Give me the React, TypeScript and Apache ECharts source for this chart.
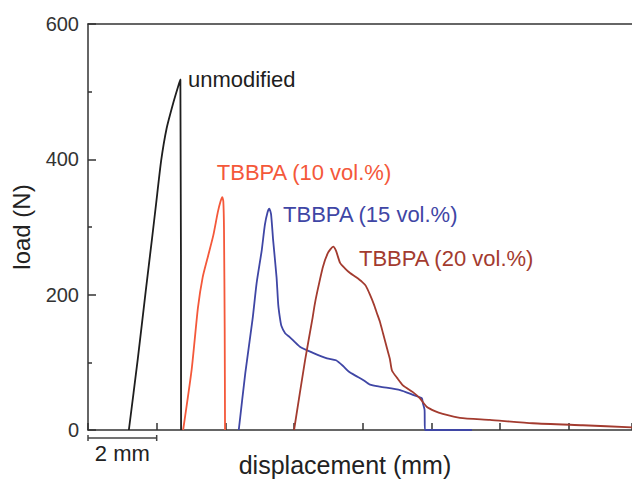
import React, { useEffect, useRef } from "react";
import * as echarts from "echarts";

// displacement (mm), load (N)
const unmodified: [number, number][] = [
  [1.19, 0], [1.45, 105], [1.68, 205], [1.86, 281], [1.98, 333], [2.13, 398],
  [2.29, 446], [2.48, 483], [2.62, 507], [2.69, 518], [2.71, 0],
];
const tbbpa10: [number, number][] = [
  [2.77, 0], [3.02, 90], [3.2, 180], [3.34, 226], [3.5, 258], [3.65, 288], [3.78, 322],
  [3.86, 338], [3.91, 344], [3.94, 338], [3.96, 296], [3.98, 150], [3.99, 0],
];
const tbbpa15: [number, number][] = [
  [4.39, 0], [4.58, 84], [4.79, 163], [4.91, 217], [5.06, 266], [5.15, 303],
  [5.23, 322], [5.28, 327], [5.33, 319], [5.39, 281], [5.49, 226], [5.54, 185],
  [5.59, 165], [5.63, 154], [5.74, 143], [5.88, 137], [6.17, 123], [6.55, 114],
  [6.96, 106], [7.22, 103], [7.42, 95], [7.6, 86], [7.8, 80], [8.01, 74],
  [8.21, 67], [8.5, 64], [9.09, 59], [9.46, 52], [9.72, 47], [9.75, 40],
  [9.8, 30], [9.81, 0], [11.18, 0],
];
const tbbpa20: [number, number][] = [
  [6.0, 0], [6.32, 103], [6.53, 163], [6.6, 185], [6.67, 203], [6.84, 241],
  [6.99, 262], [7.14, 271], [7.22, 265], [7.34, 247], [7.48, 239], [7.63, 232],
  [7.8, 226], [7.98, 219], [8.09, 213], [8.21, 200], [8.33, 185], [8.41, 173],
  [8.5, 160], [8.59, 143], [8.71, 120], [8.79, 105], [8.85, 88], [9.0, 77],
  [9.17, 66], [9.46, 56], [9.66, 47], [9.87, 34], [10.1, 28], [10.33, 24],
  [10.83, 18], [11.7, 15], [12.95, 10], [14.41, 7], [15.84, 4],
];

const seriesNames = ["unmodified", "TBBPA (10 vol.%)", "TBBPA (15 vol.%)", "TBBPA (20 vol.%)"];
const seriesData = [unmodified, tbbpa10, tbbpa15, tbbpa20];
const seriesColors = ["#1e1e1e", "#f4583a", "#3f46a5", "#a33b2f"];
// label anchors (left-middle), in data units
const labelAnchors: [number, number][] = [[2.91, 518], [3.75, 381], [5.68, 318], [7.89, 253]];

const xMax = 15.84;
const xInterval = 2;
const yTicks = [0, 200, 400, 600];
const scaleBarMm = 2;

const FONT = "'Liberation Sans', Arial, Helvetica, sans-serif";

export default function App() {
  const ref = useRef<HTMLDivElement>(null);
  useEffect(() => {
    document.body.style.margin = "0";
    const chart = echarts.init(ref.current!, null, { renderer: "svg" });
    const axisLine = { show: true, lineStyle: { color: "#333", width: 1.5 } };
    chart.setOption({
      animation: false,
      backgroundColor: "#ffffff",
      textStyle: { fontFamily: FONT },
      grid: { left: 88, right: 0, top: 24, bottom: 49, containLabel: false, outerBoundsMode: "none" },
      xAxis: [
        {
          type: "value",
          min: 0,
          max: xMax,
          interval: xInterval,
          axisLine,
          axisTick: { show: true, inside: true, length: 7, lineStyle: { color: "#333", width: 1.5 } },
          axisLabel: { show: false },
          splitLine: { show: false },
          name: "displacement (mm)",
          nameLocation: "middle",
          nameGap: 22,
          nameTextStyle: { fontSize: 25, color: "#222", fontFamily: FONT, padding: [0, 30, 0, 0] },
        },
        {
          type: "value",
          position: "top",
          min: 0,
          max: xMax,
          interval: xInterval,
          axisLine,
          axisTick: { show: false },
          axisLabel: { show: false },
          splitLine: { show: false },
        },
      ],
      yAxis: {
        type: "value",
        min: yTicks[0],
        max: yTicks[yTicks.length - 1],
        interval: yTicks[1] - yTicks[0],
        axisLine,
        axisTick: { show: true, inside: true, length: 8, lineStyle: { color: "#333", width: 1.5 } },
        minorTick: { show: true, splitNumber: 2, length: 4, lineStyle: { color: "#333", width: 1.5 } },
        axisLabel: { fontSize: 20, color: "#333", margin: 9, fontFamily: FONT },
        splitLine: { show: false },
        name: "load (N)",
        nameLocation: "middle",
        nameGap: 55,
        nameTextStyle: { fontSize: 24, color: "#222", fontFamily: FONT },
      },
      series: seriesData.map((d, i) => ({
        type: "line",
        name: seriesNames[i],
        data: d,
        xAxisIndex: 0,
        yAxisIndex: 0,
        showSymbol: false,
        symbol: "none",
        smooth: 0.2,
        lineStyle: { color: seriesColors[i], width: 1.8 },
        clip: true,
      })),
    });

    const px = (x: number, y: number) => chart.convertToPixel({ gridIndex: 0 }, [x, y]) as number[];
    const p0 = px(0, 0);
    const p2 = px(scaleBarMm, 0);
    const barY = p0[1] + 8;
    const graphic: any[] = [
      { type: "line", shape: { x1: p0[0], y1: barY, x2: p2[0], y2: barY }, style: { stroke: "#444", lineWidth: 1.5 } },
      { type: "line", shape: { x1: p0[0], y1: barY - 3, x2: p0[0], y2: barY + 3 }, style: { stroke: "#444", lineWidth: 1.5 } },
      { type: "line", shape: { x1: p2[0], y1: barY - 3, x2: p2[0], y2: barY + 3 }, style: { stroke: "#444", lineWidth: 1.5 } },
      {
        type: "text",
        x: (p0[0] + p2[0]) / 2,
        y: barY + 15,
        style: { text: `${scaleBarMm} mm`, fontSize: 22, fill: "#222", fontFamily: FONT, align: "center", verticalAlign: "middle" },
      },
    ];
    labelAnchors.forEach((a, i) => {
      const p = px(a[0], a[1]);
      graphic.push({
        type: "text",
        x: p[0],
        y: p[1],
        style: {
          text: seriesNames[i],
          fontSize: 22,
          fill: seriesColors[i],
          fontFamily: FONT,
          align: "left",
          verticalAlign: "middle",
        },
      });
    });
    chart.setOption({ graphic });
    return () => chart.dispose();
  }, []);
  return <div ref={ref} style={{ width: 632, height: 479 }} />;
}
